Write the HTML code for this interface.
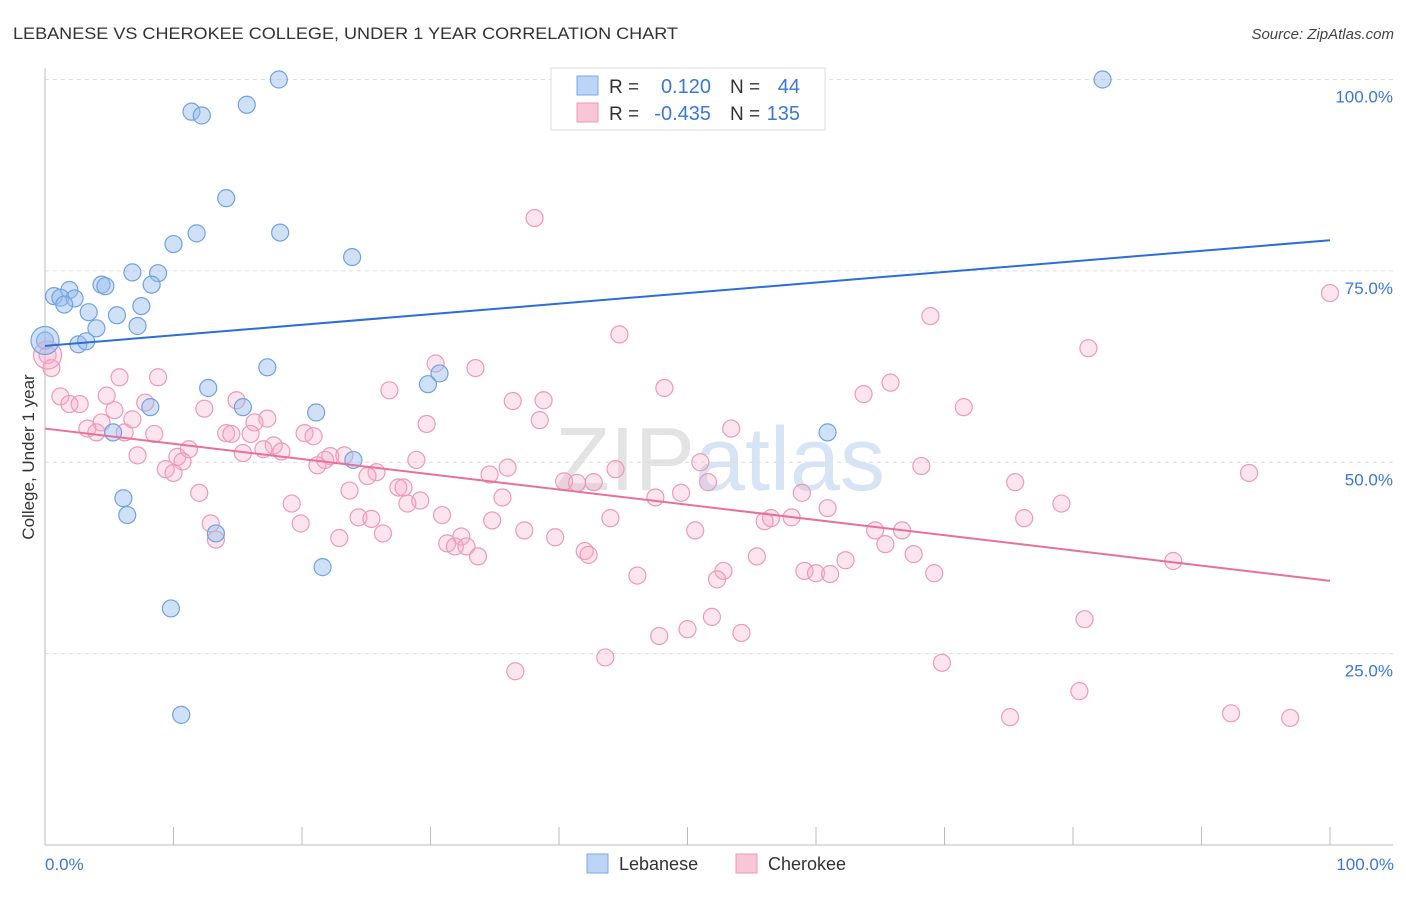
<!DOCTYPE html>
<html><head><meta charset="utf-8"><style>
body{margin:0;background:#fff;font-family:"Liberation Sans",sans-serif;}
svg text{font-family:"Liberation Sans",sans-serif;}
</style></head><body>
<svg id="chart" width="1406" height="892" xmlns="http://www.w3.org/2000/svg">
<text x="13" y="39" font-size="17" fill="#333" textLength="665" lengthAdjust="spacingAndGlyphs">LEBANESE VS CHEROKEE COLLEGE, UNDER 1 YEAR CORRELATION CHART</text>
<text x="1394" y="39" font-size="15" fill="#444" text-anchor="end" font-style="italic">Source: ZipAtlas.com</text>
<text x="720" y="490" font-size="90" fill="#e6ecf4" text-anchor="middle" font-family="Liberation Serif"><tspan fill="#e3e3e3">ZIP</tspan><tspan fill="#d6e4f5" font-family="Liberation Sans">atlas</tspan></text>
<g id="grid"></g>
<g id="axes"></g>
<g id="pts"></g>
<g id="lines"></g>
<text transform="translate(34,457) rotate(-90)" font-size="17" fill="#333" text-anchor="middle">College, Under 1 year</text>
<text x="45" y="870" font-size="17" fill="#3a78d8">0.0%</text>
<text x="1394" y="870" font-size="17" fill="#3a78d8" text-anchor="end">100.0%</text>
<g>
<rect x="551" y="68" width="274" height="62" fill="#fff" stroke="#ddd"/>
<rect x="577" y="76" width="21" height="19" fill="#bcd4f5" stroke="#7aa8e6"/>
<rect x="577" y="103" width="21" height="19" fill="#f8c6d6" stroke="#eb9ab6"/>
<text x="609" y="93" font-size="19" fill="#333">R =</text>
<text x="711" y="93" font-size="20" fill="#3a78d8" text-anchor="end">0.120</text>
<text x="730" y="93" font-size="19" fill="#333">N =</text>
<text x="800" y="93" font-size="20" fill="#3a78d8" text-anchor="end">44</text>
<text x="609" y="120" font-size="19" fill="#333">R =</text>
<text x="711" y="120" font-size="20" fill="#3a78d8" text-anchor="end">-0.435</text>
<text x="730" y="120" font-size="19" fill="#333">N =</text>
<text x="800" y="120" font-size="20" fill="#3a78d8" text-anchor="end">135</text>
</g>
<g>
<rect x="587" y="854" width="21" height="19" fill="#bcd4f5" stroke="#7aa8e6"/>
<text x="619" y="870" font-size="18" fill="#333">Lebanese</text>
</g>
<g>
<rect x="736" y="854" width="21" height="19" fill="#f8c6d6" stroke="#eb9ab6"/>
<text x="768" y="870" font-size="18" fill="#333">Cherokee</text>
</g>
</svg>
<script>
const yTicks=[25,50,75,100];
const yTickLabels=["25.0%","50.0%","75.0%","100.0%"];
const blueX=[18.2,82.3,11.4,12.2,15.7,14.1,11.8,18.3,10.0,23.9,6.8,8.8,4.4,4.7,8.3,0.7,1.9,1.2,2.3,1.5,7.5,3.4,5.6,7.2,4.0,2.6,3.2,0,17.3,12.7,30.7,29.8,8.2,15.4,21.1,5.3,60.9,24.0,6.1,6.4,13.3,21.6,9.8,10.6];
const blueY=[100,100,95.8,95.3,96.7,84.5,79.9,80.0,78.5,76.8,74.8,74.7,73.2,73.0,73.2,71.7,72.5,71.5,71.4,70.6,70.4,69.6,69.2,67.8,67.5,65.4,65.8,65.9,62.4,59.7,61.6,60.2,57.2,57.2,56.5,53.9,53.9,50.3,45.3,43.1,40.7,36.3,30.9,17.0];
const pinkX=[38.1,100,68.9,44.7,81.2,0.2,0.5,30.4,33.5,5.8,8.8,26.8,48.2,65.8,63.7,1.2,4.8,7.8,14.9,1.9,2.7,36.4,38.8,71.5,5.4,12.4,17.3,4.4,6.8,16.3,29.7,38.5,53.4,3.3,4.0,6.2,8.5,14.1,14.5,16.0,20.2,20.9,17.8,17.0,18.4,11.2,7.2,15.4,22.2,23.3,21.8,10.3,10.7,28.9,51.0,93.7,68.2,9.4,10.0,21.2,36.0,25.8,44.4,25.1,34.6,40.4,41.4,42.7,27.5,27.9,51.6,75.5,12.0,23.7,58.9,49.5,35.6,29.2,28.2,47.5,19.2,60.9,79.1,30.9,24.4,25.4,56.5,56.0,58.1,76.2,34.8,12.9,19.9,44.0,37.3,50.6,64.6,66.7,22.9,26.3,39.7,13.3,32.4,31.3,31.9,32.8,33.7,42.0,42.3,67.6,55.4,65.4,52.8,52.3,46.1,59.1,60.0,61.1,62.3,69.2,87.8,80.9,51.9,50.0,47.8,54.2,43.6,69.8,36.6,80.5,75.1,92.3,96.9];
const pinkY=[81.9,72.1,69.1,66.7,64.9,64.0,62.3,62.9,62.3,61.1,61.1,59.4,59.7,60.4,58.9,58.6,58.7,57.8,58.1,57.6,57.6,58.0,58.1,57.2,56.8,57.0,55.7,55.2,55.6,55.2,55.0,55.5,54.4,54.4,53.9,53.9,53.7,53.8,53.7,53.7,53.8,53.4,52.2,51.7,51.4,51.7,50.9,51.2,50.8,50.9,50.3,50.7,50.1,50.3,50.0,48.6,49.5,49.1,48.6,49.6,49.3,48.7,49.1,48.2,48.4,47.5,47.3,47.4,46.7,46.7,47.4,47.4,46.0,46.3,46.0,46.0,45.4,45.0,44.6,45.4,44.6,44.0,44.6,43.1,42.8,42.6,42.7,42.3,42.8,42.7,42.4,42.0,42.0,42.7,41.1,41.1,41.1,41.1,40.1,40.7,40.2,39.9,40.3,39.4,39.0,39.0,37.7,38.4,37.9,38.0,37.7,39.3,35.8,34.7,35.2,35.8,35.5,35.4,37.2,35.5,37.1,29.5,29.8,28.2,27.3,27.7,24.5,23.8,22.7,20.1,16.7,17.2,16.6];
const bigBlue=[[0,65.9]];
const bigPink=[[0.2,64.0]];
const blueTrend=[65.2,79.0];
const pinkTrend=[54.4,34.5];

const NS="http://www.w3.org/2000/svg";
const X0=45,X1=1330,Y100=79.5,Y0=845;
function sx(v){return X0+(X1-X0)*v/100;}
function sy(v){return Y0-(Y0-Y100)*v/100;}
function mk(tag,attrs,parent){const e=document.createElementNS(NS,tag);for(const k in attrs)e.setAttribute(k,attrs[k]);parent.appendChild(e);return e;}
const grid=document.getElementById('grid'),axes=document.getElementById('axes'),pts=document.getElementById('pts'),lines=document.getElementById('lines');
yTicks.forEach((t,i)=>{
  const l=mk('line',{x1:45,x2:1393,y1:sy(t),y2:sy(t),stroke:'#ddd','stroke-dasharray':'4,4'},grid);
  
  
  const tx=mk('text',{x:1393,y:sy(t)+23,'font-size':17,fill:'#3a78d8','text-anchor':'end'},grid);
  tx.textContent=yTickLabels[i];
  
  
});
const ax=mk('line',{x1:45,x2:1393,y1:845,y2:845,stroke:'#bbb'},axes);


const ay=mk('line',{x1:45,x2:45,y1:68,y2:845,stroke:'#bbb'},axes);


for(let k=0;k<=10;k++){
  const t=mk('line',{x1:sx(k*10),x2:sx(k*10),y1:827,y2:845,stroke:'#bbb'},axes);
  
  
}
function dot(x,y,r,fill,stroke,name){
  const c=mk('circle',{cx:sx(x),cy:sy(y),r:r,fill:fill,stroke:stroke,'stroke-width':1.2},pts);
  
  
}
pinkX.forEach((x,i)=>dot(x,pinkY[i],8.5,'rgba(244,170,198,0.3)','#ec9ab8','cherokee-point'));
blueX.forEach((x,i)=>dot(x,blueY[i],8.5,'rgba(150,188,238,0.45)','#6fa3e0','lebanese-point'));
bigPink.forEach(p=>dot(p[0],p[1],14,'rgba(244,170,198,0.3)','#ec9ab8','cherokee-point-large'));
bigBlue.forEach(p=>dot(p[0],p[1],14,'rgba(150,188,238,0.45)','#6fa3e0','lebanese-point-large'));
const bl=mk('line',{x1:sx(0),y1:sy(blueTrend[0]),x2:sx(100),y2:sy(blueTrend[1]),stroke:'#2a6fd6','stroke-width':2},lines);


const pl=mk('line',{x1:sx(0),y1:sy(pinkTrend[0]),x2:sx(100),y2:sy(pinkTrend[1]),stroke:'#e8709a','stroke-width':2},lines);


</script>
</body></html>
